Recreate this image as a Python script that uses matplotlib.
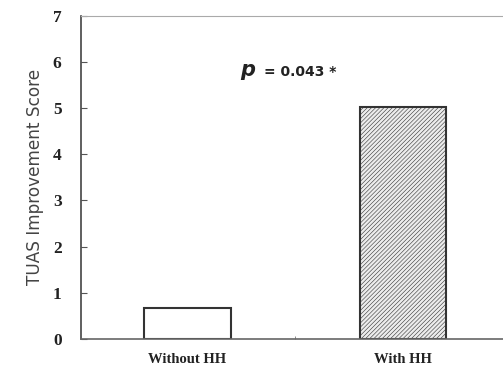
import matplotlib
matplotlib.use('Agg')
import matplotlib.pyplot as plt

groups = ['Without HH', 'With HH']
scores = [0.67, 5.02]
y_ticks = [0, 1, 2, 3, 4, 5, 6, 7]

plt.rcParams['hatch.color'] = '#d2d2d2'
plt.rcParams['hatch.linewidth'] = 0.4

fig = plt.figure(figsize=(5.03, 3.70), dpi=100)
ax = fig.add_axes([0.161, 0.084, 0.845, 0.873])

x = [0, 1]
ax.bar(x[0], scores[0], width=0.40, color='white', edgecolor='#333333', linewidth=1.5)
ax.bar(x[1], scores[1], width=0.40, color='#ececec', edgecolor='#333333', linewidth=1.5,
       hatch='////////')

ax.set_xlim(-0.495, 1.48)
ax.set_ylim(0, 7)
ax.set_yticks(y_ticks)
ax.set_yticklabels([str(t) for t in y_ticks], family='Liberation Serif',
                   fontweight='bold', fontsize=12.5, color='#222222')
ax.tick_params(axis='y', direction='in', length=4, color='#555555', pad=14)

ax.set_xticks(x)
ax.set_xticklabels(groups, family='Liberation Serif', fontweight='bold',
                   fontsize=10.5, color='#222222')
ax.tick_params(axis='x', length=0, pad=10)
ax.set_xticks([0.5], minor=True)
ax.tick_params(axis='x', which='minor', direction='in', length=2, color='#777777')

ax.set_ylabel('TUAS Improvement Score', fontsize=12.2, color='#444444', labelpad=6)

ax.spines['left'].set_color('#444444')
ax.spines['left'].set_linewidth(1.2)
ax.spines['bottom'].set_color('#666666')
ax.spines['bottom'].set_linewidth(1.2)
ax.spines['top'].set_color('#aaaaaa')
ax.spines['right'].set_visible(False)

ax.text(0.245, 5.70, 'p', fontsize=15, fontstyle='italic', fontweight='bold',
        family='DejaVu Sans', color='#222222', ha='left', va='baseline')
ax.text(0.355, 5.70, '= 0.043 *', fontsize=10, fontweight='bold',
        family='DejaVu Sans', color='#222222', ha='left', va='baseline')

fig.savefig('out.png', dpi=100)
